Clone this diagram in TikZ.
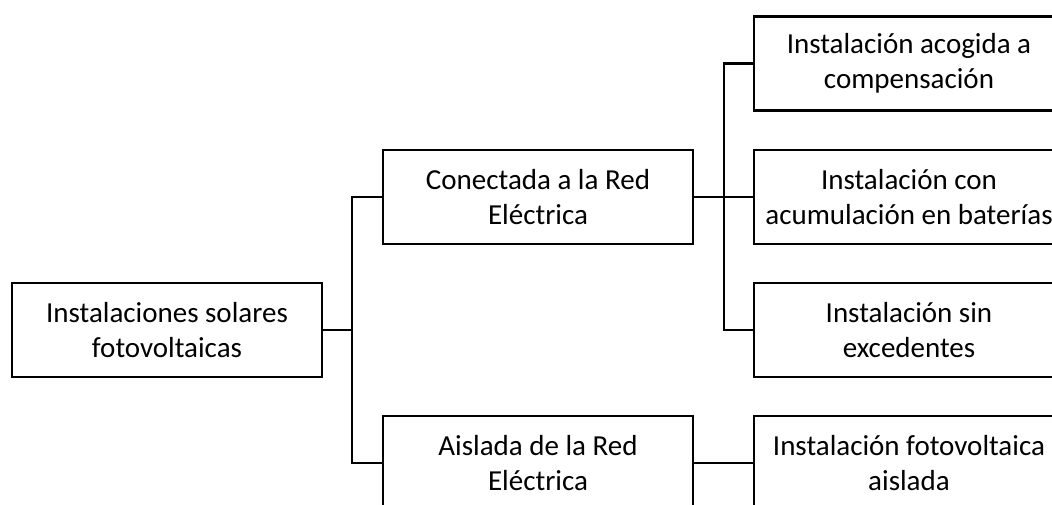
\documentclass[tikz,border=0pt]{standalone}
\usepackage{fontspec}
\setmainfont{Carlito}
\begin{document}
\begin{tikzpicture}[x=1pt,y=-1pt,
  box/.style={draw=black,line width=2.4pt,minimum width=310pt,minimum height=94pt,
    inner sep=0pt,align=center,font=\fontsize{29}{35.4}\selectfont},
  conn/.style={draw=black,line width=2.4pt}]
\useasboundingbox (0,0) rectangle (1052,505);
\clip (0,0) rectangle (1052,505);
\fill[white] (0,0) rectangle (1052,505);
\node[box] (root) at (167,330) {Instalaciones solares\\fotovoltaicas};
\node[box] (con) at (538,197) {Conectada a la Red\\Eléctrica};
\node[box] (ais) at (538,463) {Aislada de la Red\\Eléctrica};
\node[box] (r1) at (909,63.5) {Instalación acogida a\\compensación};
\node[box] (r2) at (909,197) {Instalación con\\acumulación en baterías};
\node[box] (r3) at (909,330) {Instalación sin\\excedentes};
\node[box] (r4) at (909,463) {Instalación fotovoltaica\\aislada};
\coordinate (t1) at (352,330);
\coordinate (t2) at (724,197);
\draw[conn] (root.east) -- (t1);
\draw[conn] (con.west) -| (t1) |- (ais.west);
\draw[conn] (con.east) -- (t2);
\draw[conn] (r1.west) -| (t2) |- (r3.west);
\draw[conn] (t2) -- (r2.west);
\draw[conn] (ais.east) -- (r4.west);
\end{tikzpicture}
\end{document}
